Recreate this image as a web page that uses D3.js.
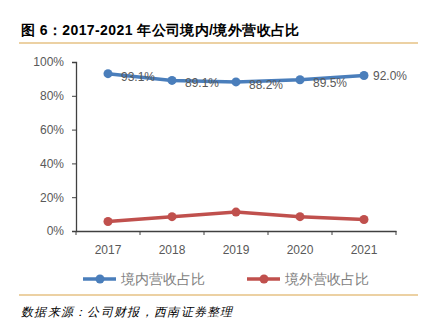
<!DOCTYPE html>
<html>
<head>
<meta charset="utf-8">
<script src="https://cdn.jsdelivr.net/npm/d3@7"></script>
<style>
  body { margin: 0; background: #fff; }
  text { font-family: "Liberation Sans", Arial, sans-serif; }
</style>
</head>
<body>
<div id="chart"></div>
<script>
var years = ['2017', '2018', '2019', '2020', '2021'],
    domestic = [93.1, 89.1, 88.2, 89.5, 92.0],
    overseas = [5.6, 8.5, 11.2, 8.5, 6.8],
    yTicks = [0, 20, 40, 60, 80, 100];

var seriesNames = ['境内营收占比', '境外营收占比'],
    colors = ['#4a7ebb', '#c0504d'];

var W = 431, H = 327;

var svg = d3.select('#chart')
    .append('svg')
        .attr('width', W)
        .attr('height', H);

// title + rules
svg.append('text')
    .attr('x', 21).attr('y', 35)
    .attr('font-size', 14).attr('font-weight', 'bold')
    .attr('letter-spacing', 0.4)
    .attr('font-family', '"Noto Sans CJK SC", sans-serif')
    .attr('fill', '#000')
    .text('图 6：2017-2021 年公司境内/境外营收占比');

svg.append('line')
    .attr('x1', 19).attr('x2', 418).attr('y1', 43).attr('y2', 43)
    .attr('stroke', '#d9a448').attr('stroke-width', 1.2);

svg.append('line')
    .attr('x1', 19).attr('x2', 418).attr('y1', 295).attr('y2', 295)
    .attr('stroke', '#d9a448').attr('stroke-width', 1.2);

svg.append('text')
    .attr('x', 21).attr('y', 316)
    .attr('font-size', 12).attr('font-style', 'italic')
    .attr('letter-spacing', 1.3)
    .attr('font-family', '"Noto Sans CJK SC", sans-serif')
    .attr('fill', '#000')
    .text('数据来源：公司财报，西南证券整理');

var x = d3.scaleBand()
    .domain(years)
    .range([76, 396]);

var y = d3.scaleLinear()
    .domain([0, 100])
    .range([231, 62]);

var xAxis = svg.append('g')
    .attr('transform', 'translate(0,231)')
    .call(d3.axisBottom(x).tickSize(0).tickPadding(14));

xAxis.selectAll('text').attr('font-size', 12).attr('fill', '#595959');
xAxis.select('.domain').attr('stroke', '#404040').attr('stroke-width', 1.3);

// band-edge ticks
xAxis.selectAll('.edge')
    .data(years.map(d => x(d)).concat([x.range()[1]]))
    .enter().append('line')
        .attr('x1', d => d).attr('x2', d => d)
        .attr('y1', 0).attr('y2', 4)
        .attr('stroke', '#404040');

var yAxis = svg.append('g')
    .attr('transform', 'translate(76,0)')
    .call(d3.axisLeft(y).tickValues(yTicks).tickSize(4).tickPadding(8).tickFormat(d => d + '%'));

yAxis.selectAll('text').attr('font-size', 12).attr('fill', '#595959');
yAxis.selectAll('.tick line').attr('stroke', '#404040');
yAxis.select('.domain').attr('stroke', '#404040').attr('stroke-width', 1.3);

var line = d3.line()
    .x((d, i) => x(years[i]) + x.bandwidth() / 2)
    .y(d => y(d));

[domestic, overseas].forEach((vals, s) => {
    svg.append('path')
        .datum(vals)
        .attr('d', line)
        .attr('fill', 'none')
        .attr('stroke', colors[s])
        .attr('stroke-width', 3.5);

    svg.selectAll('.pt' + s)
        .data(vals)
        .enter().append('circle')
            .attr('cx', (d, i) => x(years[i]) + x.bandwidth() / 2)
            .attr('cy', d => y(d))
            .attr('r', 4.5)
            .attr('fill', colors[s]);
});

svg.selectAll('.lbl')
    .data(domestic)
    .enter().append('text')
        .attr('x', (d, i) => x(years[i]) + x.bandwidth() / 2 + (i == 4 ? 9 : 13))
        .attr('y', (d, i) => y(d) + (i == 4 ? 4 : 7))
        .attr('font-size', 12)
        .attr('fill', '#595959')
        .text(d => d.toFixed(1) + '%');

// legend
var legendX = [83, 247];
seriesNames.forEach((name, s) => {
    var g = svg.append('g').attr('transform', 'translate(' + legendX[s] + ',279)');
    g.append('line')
        .attr('x1', 0).attr('x2', 33).attr('y1', 0).attr('y2', 0)
        .attr('stroke', colors[s]).attr('stroke-width', 3.5);
    g.append('circle')
        .attr('cx', 17).attr('cy', 0).attr('r', 4.5)
        .attr('fill', colors[s]);
    g.append('text')
        .attr('x', 38).attr('y', 5)
        .attr('font-size', 14)
        .attr('font-family', '"Noto Sans CJK SC", sans-serif')
        .attr('fill', '#7f7f7f')
        .text(name);
});
</script>
</body>
</html>
